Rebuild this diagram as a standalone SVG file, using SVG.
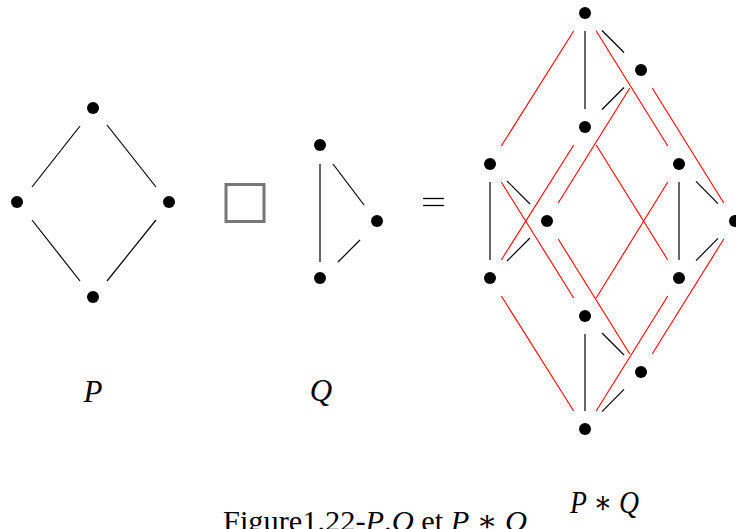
<svg xmlns="http://www.w3.org/2000/svg" width="736" height="529" viewBox="0 0 736 529">
<style>
.bg{fill:#ffffff}
.dot{fill:#000000}
.e{stroke:#000000;stroke-width:1.2;fill:none}
.r{stroke:#ff0000;stroke-width:1.1;fill:none}
.lbl{font-family:"Liberation Serif","DejaVu Serif",serif;font-style:italic;font-size:31px;fill:#000}
.cap{font-family:"Liberation Serif","DejaVu Serif",serif;font-size:29px;fill:#000}
.op{stroke:#777777;stroke-width:3;fill:none}
</style>
<rect class="bg" x="0" y="0" width="736" height="529"/>
<g id="connectors">
  <line class="e" x1="80" y1="126" x2="32" y2="187"/>
  <line class="e" x1="107" y1="125" x2="156" y2="187"/>
  <line class="e" x1="32" y1="220" x2="80" y2="281"/>
  <line class="e" x1="156" y1="220" x2="107" y2="281"/>
  <line class="e" x1="320" y1="164" x2="320" y2="262"/>
  <line class="e" x1="333" y1="164" x2="364" y2="205"/>
  <line class="e" x1="338" y1="262" x2="360" y2="240"/>
  <line class="e" x1="585" y1="31" x2="585" y2="109"/>
  <line class="e" x1="602" y1="30.5" x2="624" y2="52.5"/>
  <line class="e" x1="624" y1="87.5" x2="602" y2="109.5"/>
  <line class="e" x1="490" y1="182" x2="490" y2="260"/>
  <line class="e" x1="507" y1="181" x2="530" y2="204"/>
  <line class="e" x1="530" y1="238" x2="507" y2="261"/>
  <line class="e" x1="679" y1="182" x2="679" y2="260"/>
  <line class="e" x1="696" y1="181.3" x2="718" y2="203.7"/>
  <line class="e" x1="718" y1="238.3" x2="696" y2="260.7"/>
  <line class="e" x1="585" y1="334" x2="585" y2="411"/>
  <line class="e" x1="602" y1="333" x2="624" y2="355"/>
  <line class="e" x1="624" y1="389.3" x2="602" y2="411.7"/>
  <line class="r" x1="573.7" y1="31" x2="501.3" y2="146"/>
  <line class="r" x1="596.2" y1="31" x2="667.8" y2="146"/>
  <line class="r" x1="501.3" y1="182" x2="573.7" y2="298"/>
  <line class="r" x1="667.8" y1="182" x2="596.2" y2="298"/>
  <line class="r" x1="629.8" y1="88" x2="558.2" y2="203"/>
  <line class="r" x1="652.2" y1="88" x2="723.8" y2="203"/>
  <line class="r" x1="558.2" y1="239" x2="629.8" y2="354"/>
  <line class="r" x1="723.8" y1="239" x2="652.2" y2="354"/>
  <line class="r" x1="573.7" y1="145" x2="501.3" y2="260"/>
  <line class="r" x1="596.2" y1="145" x2="667.8" y2="260"/>
  <line class="r" x1="501.3" y1="296" x2="573.7" y2="411"/>
  <line class="r" x1="667.8" y1="296" x2="596.2" y2="411"/>
</g>
<g id="P">
  <circle class="dot" cx="93" cy="108" r="6"/>
  <circle class="dot" cx="17" cy="202" r="6"/>
  <circle class="dot" cx="169" cy="202" r="6"/>
  <circle class="dot" cx="93" cy="297" r="6"/>
  <text class="lbl" x="93" y="402" text-anchor="middle">P</text>
</g>
<g id="op">
  <rect class="op" x="226" y="184.5" width="38" height="37"/>
</g>
<g id="Q">
  <circle class="dot" cx="320" cy="145" r="6"/>
  <circle class="dot" cx="377" cy="221" r="6"/>
  <circle class="dot" cx="320" cy="278" r="6"/>
  <text class="lbl" x="321" y="401" text-anchor="middle">Q</text>
</g>
<g id="eq">
  <line x1="423" y1="198.5" x2="444" y2="198.5" stroke="#000" stroke-width="1.3"/>
  <line x1="423" y1="205.5" x2="444" y2="205.5" stroke="#000" stroke-width="1.3"/>
</g>
<g id="PQ">
  <circle class="dot" cx="585" cy="13" r="6"/>
  <circle class="dot" cx="641" cy="70" r="6"/>
  <circle class="dot" cx="585" cy="127" r="6"/>
  <circle class="dot" cx="490" cy="164" r="6"/>
  <circle class="dot" cx="679" cy="164" r="6"/>
  <circle class="dot" cx="547" cy="221" r="6"/>
  <circle class="dot" cx="735" cy="221" r="6"/>
  <circle class="dot" cx="490" cy="278" r="6"/>
  <circle class="dot" cx="679" cy="278" r="6"/>
  <circle class="dot" cx="585" cy="316" r="6"/>
  <circle class="dot" cx="641" cy="372" r="6"/>
  <circle class="dot" cx="585" cy="429" r="6"/>
  <text class="lbl" x="570" y="513" textLength="69" lengthAdjust="spacingAndGlyphs">P ∗ Q</text>
</g>
<g id="caption">
  <text class="cap" x="223" y="531" textLength="304" lengthAdjust="spacingAndGlyphs">Figure1.22-<tspan font-style="italic">P</tspan>.<tspan font-style="italic">Q</tspan> et <tspan font-style="italic">P</tspan> ∗ <tspan font-style="italic">Q</tspan></text>
</g>
</svg>
